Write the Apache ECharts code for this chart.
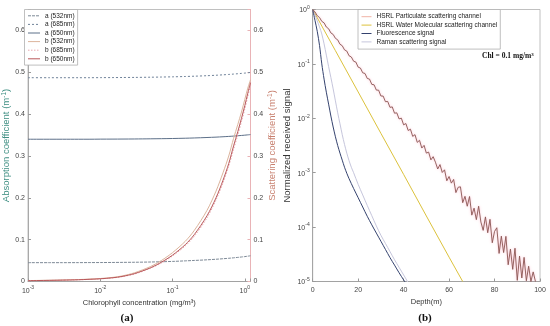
<!DOCTYPE html>
<html><head><meta charset="utf-8">
<script src="https://cdn.jsdelivr.net/npm/echarts@6/dist/echarts.min.js"></script>
<style>html,body{margin:0;padding:0;background:#fff}#c{width:550px;height:326px}</style>
</head><body><div id="c"></div><script>
// ---------- Panel (a) data ----------
const chl = [0.001,0.002,0.003,0.005,0.007,0.01,0.015,0.02,0.03,0.05,0.07,0.1,0.15,0.2,0.3,0.4,0.5,0.6,0.7,0.8,0.9,1.0,1.1,1.2];
const a532 = [0.045,0.045,0.045,0.0451,0.0452,0.0453,0.0455,0.0457,0.046,0.0466,0.0472,0.048,0.0493,0.0503,0.0518,0.0532,0.0544,0.0555,0.0566,0.0576,0.0586,0.0595,0.0605,0.0615];
const a685 = [0.487,0.487,0.487,0.487,0.487,0.4872,0.4873,0.4875,0.4877,0.4882,0.4886,0.4891,0.4899,0.4906,0.4918,0.4929,0.4939,0.4948,0.4957,0.4965,0.4973,0.498,0.4988,0.4995];
const a650 = [0.340,0.340,0.340,0.340,0.340,0.3402,0.3403,0.3404,0.3406,0.341,0.3413,0.3417,0.3424,0.343,0.3441,0.345,0.3459,0.3467,0.3475,0.3483,0.349,0.3497,0.3504,0.3511];
const b532 = [0.0022,0.0030,0.0036,0.0046,0.0057,0.0071,0.0099,0.0132,0.021,0.036,0.050,0.069,0.096,0.122,0.170,0.216,0.260,0.300,0.342,0.375,0.405,0.435,0.462,0.482];
const b685 = [0.0019,0.0026,0.0032,0.0041,0.0050,0.0063,0.0087,0.0116,0.018,0.032,0.044,0.061,0.085,0.108,0.152,0.195,0.236,0.276,0.316,0.350,0.382,0.412,0.442,0.468];
const b650 = [0.0020,0.0027,0.0033,0.0042,0.0052,0.0065,0.009,0.012,0.019,0.033,0.046,0.063,0.088,0.112,0.157,0.200,0.242,0.282,0.324,0.358,0.390,0.420,0.450,0.475];
const coefTicks = [0, 0.1, 0.2, 0.3, 0.4, 0.5, 0.6];

// ---------- Panel (b) data ----------
const partDepth = [0,1,2,3,4,5,6,7,8,9,10,11,12,13,14,15,16,17,18,19,20,21,22,23,24,25,26,27,28,29,30,31,32,33,34,35,36,37,38,39,40,41,42,43,44,45,46,47,48,49,50,51,52,53,54,55,56,57,58,59,60,61,62,63,64,65,66,67,68,69,70,71,72,73,74,75,76,77,78,79,80,81,82,83,84,85,86,87,88,89,90,91,92,93,94,95,96,97,98];
const partSignal = [1,0.908,0.769,0.714,0.605,0.569,0.476,0.443,0.371,0.348,0.295,0.277,0.230,0.216,0.181,0.172,0.141,0.134,0.112,0.108,
  0.0871,0.0838,0.0686,0.0667,0.0540,0.0525,0.0420,0.0413,0.0330,0.0329,0.0257,0.0256,0.0202,0.0204,0.0159,0.0162,0.0124,0.0126,0.00975,0.01005,
  0.00759,0.00800,0.00597,0.00630,0.00465,0.00501,0.00361,0.00394,0.00284,0.00318,0.00229,0.00239,0.00172,0.00197,0.00156,0.00117,0.00141,0.00101,0.00113,0.000711,
  0.000851,0.000643,0.000752,0.000431,0.00054,0.00055,0.000281,0.000368,0.000242,0.000365,0.000166,0.000223,0.000137,0.000242,0.000124,8.71e-5,0.000154,7.87e-5,0.000139,5.15e-5,
  8.32e-5,9.73e-5,3.28e-5,6.82e-5,3.40e-5,6.76e-5,2.03e-5,3.94e-5,1.67e-5,4.09e-5,1.05e-5,2.94e-5,1.16e-5,2.78e-5,1.03e-5,1.91e-5,1.0e-5,1.5e-5,1.0e-5];
const waterDepth = [0,10,20,30,40,50,60,66];
const waterSignal = [1,0.175,0.0305,0.0053,0.00093,0.00016,0.000028,0.00001];
const fluoDepth = [0,1,2,3,4,5,6,7,8,9,10,11,12,13,14,15,16,18,20,22,24,26,28,30,32,34,36,38,40,41];
const fluoSignal = [1,0.631,0.398,0.219,0.1,0.0525,0.0302,0.0182,0.011,0.00692,0.00457,0.00316,0.00229,0.0017,0.00126,9.77e-4,7.76e-4,5.13e-4,3.47e-4,2.34e-4,1.58e-4,1.10e-4,7.76e-5,5.5e-5,3.89e-5,2.75e-5,2.0e-5,1.45e-5,1.07e-5,9.3e-6];
const ramanDepth = [0,1,2,3,4,5,6,7,8,9,10,11,12,13,14,15,16,17,18,20,22,24,26,28,30,32,34,36,38,40,42,43];
const ramanSignal = [1,0.794,0.617,0.479,0.355,0.234,0.145,0.0891,0.0562,0.0347,0.0209,0.0126,0.00794,0.00501,0.00331,0.00229,0.00166,0.00126,0.001,6.1e-4,3.9e-4,2.5e-4,1.62e-4,1.05e-4,7.08e-5,5.01e-5,3.55e-5,2.51e-5,1.82e-5,1.32e-5,9.5e-6,7.9e-6];
const depthTicks = [0,20,40,60,80,100];

const pair = (xs, ys) => xs.map((x, i) => [x, ys[i]]);
const FONT = 'Liberation Sans, Arial, sans-serif';
const supRich = {
  b: {fontSize: 7, fontFamily: FONT, color: '#444', lineHeight: 9, verticalAlign: 'bottom'},
  s: {fontSize: 5, fontFamily: FONT, color: '#444', lineHeight: 5, verticalAlign: 'top'}
};
function pow10Label(v) {
  const e = Math.log10(v); const r = Math.round(e);
  if (Math.abs(e - r) > 1e-6) return '';
  return '{b|10}{s|' + r + '}';
}
const axisGrey = '#9a9a9a';
const lbl = {fontSize: 7, fontFamily: FONT, color: '#444'};

const chart = echarts.init(document.getElementById('c'), null, {renderer: 'canvas'});
const lineA = (name, xs, ys, color, type, yi, w) => ({
  name, type: 'line', xAxisIndex: 0, yAxisIndex: yi, data: pair(xs, ys),
  showSymbol: false, symbol: 'none', smooth: 0.3,
  lineStyle: {color, width: w || 1, type: type || 'solid'}, itemStyle: {color}
});
chart.setOption({
  animation: false,
  backgroundColor: '#fff',
  grid: [
    {left: 24.5, top: 9.5, width: 226, height: 272, show: true, borderColor: '#b0b0b0', borderWidth: 0.8},
    {left: 312.7, top: 9.5, width: 227.3, height: 272, show: true, borderColor: '#b0b0b0', borderWidth: 0.8}
  ],
  xAxis: [
    {type: 'log', gridIndex: 0, min: 0.001, max: 1.2, logBase: 10,
     axisLine: {lineStyle: {color: axisGrey, width: 0.8}},
     axisTick: {inside: true, length: 3, lineStyle: {color: axisGrey}},
     splitLine: {show: false},
     axisLabel: {formatter: pow10Label, rich: supRich, margin: 4},
     name: 'Chlorophyll concentration (mg/m³)', nameLocation: 'middle', nameGap: 16,
     nameTextStyle: {fontSize: 7.5, fontFamily: FONT, color: '#333'}},
    {type: 'value', gridIndex: 1, min: 0, max: 100, interval: 20,
     axisLine: {lineStyle: {color: axisGrey, width: 0.8}},
     axisTick: {inside: true, length: 3, lineStyle: {color: axisGrey}},
     splitLine: {show: false},
     axisLabel: Object.assign({margin: 5, formatter: v => depthTicks.includes(v) ? String(v) : ''}, lbl),
     name: 'Depth(m)', nameLocation: 'middle', nameGap: 16,
     nameTextStyle: {fontSize: 7.5, fontFamily: FONT, color: '#333'}}
  ],
  yAxis: [
    {type: 'value', gridIndex: 0, min: 0, max: 0.65, interval: 0.1, position: 'left',
     axisLine: {show: true, lineStyle: {color: axisGrey, width: 0.8}},
     axisTick: {show: true, inside: true, length: 3, lineStyle: {color: axisGrey}},
     splitLine: {show: false},
     axisLabel: Object.assign({margin: 3, formatter: v => coefTicks.some(t => Math.abs(t - v) < 1e-9) ? String(+v.toFixed(1)) : ''}, lbl),
     name: 'Absorption coefficient (m{s|-1})', nameLocation: 'middle', nameGap: 17, nameRotate: 90,
     nameTextStyle: {fontSize: 9.5, fontFamily: FONT, color: '#3f8f83',
       rich: {s: {fontSize: 6.5, fontFamily: FONT, color: '#3f8f83', verticalAlign: 'top', lineHeight: 7}}}},
    {type: 'value', gridIndex: 0, min: 0, max: 0.65, interval: 0.1, position: 'right',
     axisLine: {show: true, lineStyle: {color: '#e9b3b6', width: 1}},
     axisTick: {show: true, inside: true, length: 3, lineStyle: {color: '#e9b3b6'}},
     splitLine: {show: false},
     axisLabel: Object.assign({margin: 3, formatter: v => coefTicks.some(t => Math.abs(t - v) < 1e-9) ? String(+v.toFixed(1)) : ''}, lbl),
     name: 'Scattering coefficient (m{s|-1})', nameLocation: 'middle', nameGap: 16, nameRotate: 90,
     nameTextStyle: {fontSize: 9.5, fontFamily: FONT, color: '#c8806f',
       rich: {s: {fontSize: 6.5, fontFamily: FONT, color: '#c8806f', verticalAlign: 'top', lineHeight: 7}}}},
    {type: 'log', gridIndex: 1, min: 1e-5, max: 1, logBase: 10,
     axisLine: {show: true, lineStyle: {color: axisGrey, width: 0.8}},
     axisTick: {show: true, inside: true, length: 3, lineStyle: {color: axisGrey}},
     splitLine: {show: false},
     axisLabel: {formatter: pow10Label, rich: supRich, margin: 3},
     name: 'Normalized received signal', nameLocation: 'middle', nameGap: 20, nameRotate: 90,
     nameTextStyle: {fontSize: 9.5, fontFamily: FONT, color: '#333'}}
  ],
  legend: [
    {left: 24.5, top: 9.5, orient: 'vertical', itemWidth: 12, itemHeight: 6, itemGap: 0,
     padding: [2, 3, 2, 3], backgroundColor: '#fff', borderColor: '#b0b0b0', borderWidth: 0.8,
     itemStyle: {opacity: 0}, lineStyle: {width: 1},
     textStyle: {fontSize: 6.5, fontFamily: FONT, color: '#222', lineHeight: 8.6},
     data: ['a (532nm)', 'a (685nm)', 'a (650nm)', 'b (532nm)', 'b (685nm)', 'b (650nm)']},
    {left: 358, top: 9.5, orient: 'vertical', itemWidth: 10, itemHeight: 6, itemGap: 0,
     padding: [3, 3, 3, 3], backgroundColor: '#fff', borderColor: '#b0b0b0', borderWidth: 0.8,
     itemStyle: {opacity: 0}, lineStyle: {width: 1},
     textStyle: {fontSize: 6.5, fontFamily: FONT, color: '#222', lineHeight: 8.4},
     data: [
       {name: 'HSRL Particulate scattering channel', itemStyle: {opacity: 0}, lineStyle: {color: '#f0b3a6', shadowBlur: 0, width: 1}},
       {name: 'HSRL Water Molecular scattering channel'},
       {name: 'Fluorescence signal'},
       {name: 'Raman scattering signal'}
     ]}
  ],
  series: [
    lineA('a (532nm)', chl, a532, '#7d8996', [3, 1], 0),
    lineA('a (685nm)', chl, a685, '#6f8299', [2, 2], 0),
    lineA('a (650nm)', chl, a650, '#5d7089', 'solid', 0),
    lineA('b (532nm)', chl, b532, '#dcb49c', 'solid', 1),
    lineA('b (685nm)', chl, b685, '#e7a8b0', [1.5, 1.5], 1),
    lineA('b (650nm)', chl, b650, '#b9585a', 'solid', 1),
    {name: 'HSRL Water Molecular scattering channel', type: 'line', xAxisIndex: 1, yAxisIndex: 2,
     data: pair(waterDepth, waterSignal), showSymbol: false, symbol: 'none',
     lineStyle: {color: '#dcc23c', width: 1}, itemStyle: {color: '#dcc23c'}},
    {name: 'Raman scattering signal', type: 'line', xAxisIndex: 1, yAxisIndex: 2,
     data: pair(ramanDepth, ramanSignal), showSymbol: false, symbol: 'none', smooth: 0.3,
     lineStyle: {color: '#c6c6dc', width: 1}, itemStyle: {color: '#c6c6dc'}},
    {name: 'Fluorescence signal', type: 'line', xAxisIndex: 1, yAxisIndex: 2,
     data: pair(fluoDepth, fluoSignal), showSymbol: false, symbol: 'none', smooth: 0.3,
     lineStyle: {color: '#34426e', width: 1}, itemStyle: {color: '#34426e'}},
    {name: 'HSRL Particulate scattering channel', type: 'line', xAxisIndex: 1, yAxisIndex: 2,
     data: pair(partDepth, partSignal), showSymbol: false, symbol: 'none',
     lineStyle: {color: '#8a5652', width: 0.9, shadowColor: 'rgba(255,90,130,0.45)', shadowBlur: 2.5},
     itemStyle: {color: '#8a5652'}}
  ],
  graphic: [
    {type: 'text', left: 482, top: 52, style: {text: 'Chl = 0.1 mg/m{s|3}', font: 'bold 7.5px "Liberation Serif", serif', fill: '#111',
      rich: {s: {font: 'bold 5px "Liberation Serif", serif', fill: '#111', verticalAlign: 'top', lineHeight: 5}}}},
    {type: 'text', x: 127, y: 318, style: {text: '(a)', font: 'bold 11px "Liberation Serif", serif', fill: '#111', align: 'center', verticalAlign: 'middle'}},
    {type: 'text', x: 425, y: 318, style: {text: '(b)', font: 'bold 11px "Liberation Serif", serif', fill: '#111', align: 'center', verticalAlign: 'middle'}}
  ]
});
</script></body></html>
